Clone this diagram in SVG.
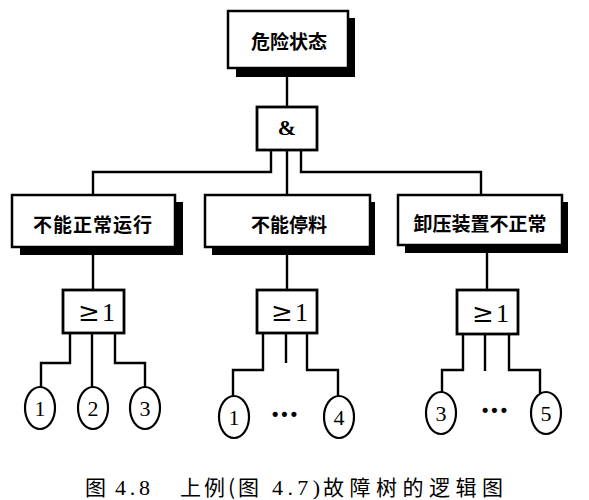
<svg xmlns="http://www.w3.org/2000/svg" width="589" height="500" viewBox="0 0 589 500">
<style>
.box{fill:#fff;stroke:#000;stroke-width:2.5}
.sh{fill:#000}
.gate{fill:#fff;stroke:#000;stroke-width:2.8}
.ev{fill:#fff;stroke:#000;stroke-width:2.2}
.ln{fill:none;stroke:#000;stroke-width:2.4}
.lbl{font-family:"Noto Sans CJK SC","Noto Sans CJK JP",sans-serif;font-weight:bold;font-size:19px;text-anchor:middle;fill:#000}
.num{font-family:"Liberation Serif",serif;font-size:22px;text-anchor:middle;fill:#000}
.gt{font-family:"DejaVu Serif","Liberation Serif",serif;font-size:26px;fill:#000}
.g1{font-family:"Liberation Serif",serif;font-size:26px;fill:#000}
.cap{font-family:"Noto Sans CJK SC",sans-serif;font-size:21px;fill:#000}
.capn{font-family:"Liberation Serif",serif;font-size:22px;fill:#000}
</style>
<rect width="589" height="500" fill="#fff"/>
<g id="connectors">
<path class="ln" d="M287 77V107"/>
<path class="ln" d="M271 150V172H93V195"/>
<path class="ln" d="M287 150V195"/>
<path class="ln" d="M301 150V172H481V195"/>
<path class="ln" d="M93 255V290"/>
<path class="ln" d="M287 255V290"/>
<path class="ln" d="M487 253V290"/>
<path class="ln" d="M70 333V363H41V387"/>
<path class="ln" d="M92 333V387"/>
<path class="ln" d="M115 333V363H145V387"/>
<path class="ln" d="M263 333V370H233V396"/>
<path class="ln" d="M286 333V363"/>
<path class="ln" d="M307 333V370H338V396"/>
<path class="ln" d="M463 334V370H442V392"/>
<path class="ln" d="M485 334V371"/>
<path class="ln" d="M509 334V370H540V393"/>
</g>
<g id="top">
<rect class="sh" x="236" y="18" width="119" height="59"/>
<rect class="box" x="228" y="11" width="120" height="57"/>
<text class="lbl" x="289" y="49">危险状态</text>
</g>
<g id="and">
<rect class="gate" x="257" y="107" width="60" height="43"/>
<text x="287" y="135" text-anchor="middle" font-family="Liberation Serif,serif" font-weight="bold" font-size="22">&amp;</text>
</g>
<g id="n1">
<rect class="sh" x="20" y="202" width="163" height="53"/>
<rect class="box" x="12" y="195" width="163" height="52"/>
<text class="lbl" x="93" y="232" letter-spacing="1">不能正常运行</text>
</g>
<g id="n2">
<rect class="sh" x="212" y="202" width="163" height="53"/>
<rect class="box" x="205" y="195" width="165" height="52"/>
<text class="lbl" x="289" y="232">不能停料</text>
</g>
<g id="n3">
<rect class="sh" x="405" y="202" width="163" height="51"/>
<rect class="box" x="398" y="195" width="164" height="50"/>
<text class="lbl" x="480" y="231">卸压装置不正常</text>
</g>
<g id="or1">
<rect class="gate" x="63" y="290" width="61" height="43"/>
<text class="gt" x="78" y="321">≥</text><text class="g1" x="102" y="321">1</text>
</g>
<g id="or2">
<rect class="gate" x="257" y="290" width="60" height="43"/>
<text class="gt" x="271" y="321">≥</text><text class="g1" x="295" y="321">1</text>
</g>
<g id="or3">
<rect class="gate" x="457" y="290" width="61" height="44"/>
<text class="gt" x="472" y="322">≥</text><text class="g1" x="496" y="322">1</text>
</g>
<g id="e1"><ellipse class="ev" cx="40" cy="408" rx="15" ry="21"/><text class="num" x="40" y="416">1</text></g>
<g id="e2"><ellipse class="ev" cx="93" cy="408" rx="15" ry="21"/><text class="num" x="93" y="416">2</text></g>
<g id="e3"><ellipse class="ev" cx="145" cy="408" rx="15" ry="21"/><text class="num" x="145" y="416">3</text></g>
<g id="e4"><ellipse class="ev" cx="234" cy="417" rx="15" ry="21"/><text class="num" x="234" y="425">1</text></g>
<g id="dots1"><text x="286" y="420" text-anchor="middle" font-family="Liberation Sans,sans-serif" font-size="18" font-weight="bold" letter-spacing="3">•••</text></g>
<g id="e5"><ellipse class="ev" cx="339" cy="417" rx="15" ry="21"/><text class="num" x="339" y="425">4</text></g>
<g id="e6"><ellipse class="ev" cx="441" cy="413" rx="15" ry="21"/><text class="num" x="441" y="421">3</text></g>
<g id="dots2"><text x="496" y="416" text-anchor="middle" font-family="Liberation Sans,sans-serif" font-size="18" font-weight="bold" letter-spacing="3">•••</text></g>
<g id="e7"><ellipse class="ev" cx="546" cy="413" rx="15" ry="21"/><text class="num" x="546" y="421">5</text></g>
<g id="caption">
<text class="cap" x="85" y="495">图</text>
<text class="capn" x="115" y="495" textLength="35" lengthAdjust="spacing">4.8</text>
<text class="cap" x="180" y="495" textLength="55" lengthAdjust="spacing">上例(</text>
<text class="cap" x="238" y="495">图</text>
<text class="capn" x="272" y="495" textLength="48" lengthAdjust="spacing">4.7)</text>
<text class="cap" x="323" y="495" textLength="180" lengthAdjust="spacing">故障树的逻辑图</text>
</g>
</svg>
